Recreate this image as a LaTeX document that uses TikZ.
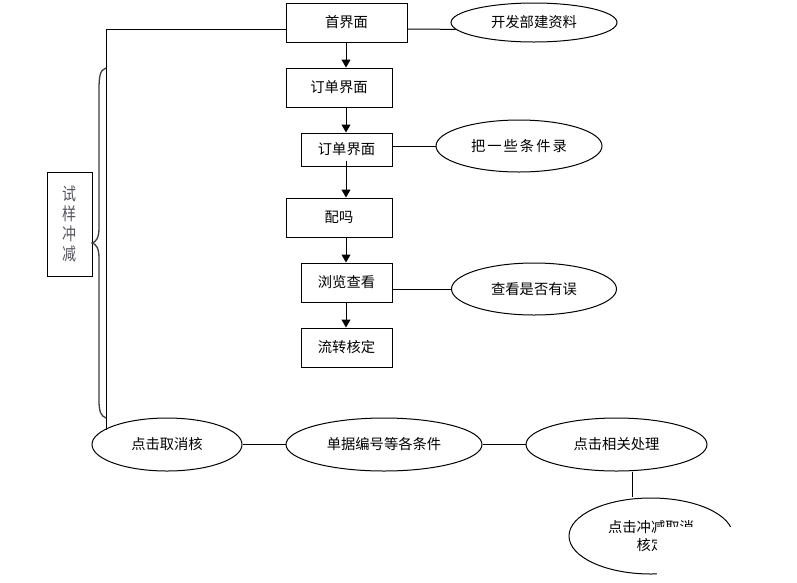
\documentclass[tikz,border=0pt]{standalone}
\usepackage{fontspec}
\setmainfont{Noto Sans CJK SC}
\usetikzlibrary{shapes.geometric,arrows.meta}
\begin{document}
\begin{tikzpicture}[x=1pt,y=-1pt,
  every node/.style={font=\fontsize{14.3}{17.5}\selectfont, inner sep=0pt},
  boxnode/.style={draw, line width=1pt, rectangle},
  ellnode/.style={draw, line width=1pt, ellipse},
  link/.style={line width=1pt},
  arr/.style={line width=1pt, -{Triangle[length=8pt,width=9pt]}}]
\useasboundingbox[fill=white] (0,0) rectangle (797,582);
% main column boxes
\node[boxnode, minimum width=121pt, minimum height=39pt] (b0) at (346.5,22.5) {首界面};
\node[boxnode, minimum width=106pt, minimum height=39pt] (b1) at (339,87.5) {订单界面};
\node[boxnode, minimum width=91pt, minimum height=33pt] (b2) at (346.5,149.5) {订单界面};
\node[boxnode, minimum width=106pt, minimum height=39pt] (b3) at (339,217.5) {配吗};
\node[boxnode, minimum width=91pt, minimum height=39pt] (b4) at (346.5,282.5) {浏览查看};
\node[boxnode, minimum width=91pt, minimum height=39pt] (b5) at (346.5,347.5) {流转核定};
% side box
\node[boxnode, minimum width=45pt, minimum height=104pt,
  text={rgb,255:red,85;green,85;blue,95}] (side) at (69.5,224)
  {\fontsize{14}{14}\selectfont\scalebox{1}[1.25]{\shortstack{试\\样\\冲\\减}}};
% ellipses
\node[ellnode, minimum width=166pt, minimum height=39pt] (e0) at (534,22.5) {开发部建资料};
\node[ellnode, minimum width=166pt, minimum height=52pt] (e1) at (519,146) {把\hspace{2pt}一\hspace{2pt}些\hspace{2pt}条\hspace{2pt}件\hspace{2pt}录};
\node[ellnode, minimum width=165pt, minimum height=52pt] (e2) at (534,289) {查看是否有误};
\node[ellnode, minimum width=150pt, minimum height=53pt] (e3) at (167,444.5) {点击取消核};
\node[ellnode, minimum width=196pt, minimum height=53pt] (e4) at (384,444.5) {单据编号等各条件};
\node[ellnode, minimum width=181pt, minimum height=53pt] (e5) at (616.5,444.5) {点击相关处理};
\node[ellnode, minimum width=164pt, minimum height=76pt, align=center] (e6) at (651,536) {点击冲减取消\\核定};
% helper coordinates
\coordinate (ax) at (346,0);
\coordinate (c1) at (106,29);
\coordinate (vx) at (632,0);
% arrows down the column
\draw[arr] (b0.south -| ax) -- (b1.north -| ax);
\draw[arr] (b1.south -| ax) -- (b2.north -| ax);
\draw[arr] ([yshift=6pt]b2.south -| ax) -- (b3.north -| ax);
\draw[arr] (b3.south -| ax) -- (b4.north -| ax);
\draw[arr] (b4.south -| ax) -- (b5.north -| ax);
% side links
\draw[link] (b0.west |- c1) -- (c1) -- (c1 |- e3.166) -- (e3.166);
\draw[link] (b0.east |- c1) -- (e0.185);
\draw[link] (b2.east |- e1.west) -- (e1.west);
\draw[link] (b4.east |- e2.west) -- (e2.west);
% bottom row
\draw[link] (e3.east) -- (e4.west);
\draw[link] (e4.east) -- (e5.west);
\draw[link] (e5.south -| vx) -- ([yshift=1pt]e6.north -| vx);
% brace
\draw[line width=1.3pt, draw={rgb,255:red,60;green,60;blue,60}]
  (106,68) .. controls (100,70) and (99,76) .. (99,90)
  -- (99,228) .. controls (99,238) and (96,242) .. (92,243)
  .. controls (96,244) and (99,248) .. (99,258)
  -- (99,400) .. controls (99,412) and (101,416) .. (106,418);
% occluding white region
\fill[white] (657,527) rectangle (797,582);
\end{tikzpicture}
\end{document}
